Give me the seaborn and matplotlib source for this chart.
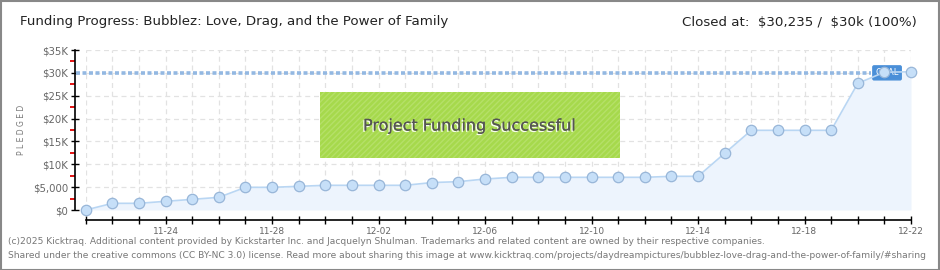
import matplotlib
matplotlib.use("Agg")
import matplotlib.pyplot as plt
import seaborn as sns
import pandas as pd
from matplotlib.patches import Rectangle
import matplotlib.patheffects as pe

dates = ["11-21", "11-22", "11-23", "11-24", "11-25", "11-26", "11-27", "11-28",
         "11-29", "11-30", "12-01", "12-02", "12-03", "12-04", "12-05", "12-06",
         "12-07", "12-08", "12-09", "12-10", "12-11", "12-12", "12-13", "12-14",
         "12-15", "12-16", "12-17", "12-18", "12-19", "12-20", "12-21", "12-22"]
pledged = [0, 1460, 1460, 1900, 2330, 2770, 4960, 4960,
           5180, 5400, 5400, 5400, 5400, 6000, 6200, 6780,
           7150, 7150, 7150, 7150, 7150, 7150, 7370, 7370,
           12400, 17430, 17430, 17430, 17430, 27700, 30150, 30235]
goal = 30000
ytick_values = [0, 5000, 10000, 15000, 20000, 25000, 30000, 35000]
ytick_labels = ["\\$0", "\\$5,000", "\\$10K", "\\$15K", "\\$20K", "\\$25K", "\\$30K", "\\$35K"]
xlabel_every = 4
xlabel_start = 3

title = "Funding Progress: Bubblez: Love, Drag, and the Power of Family"
status = "Closed at:  \\$30,235 /  \\$30k (100%)"
footer1 = ("(c)2025 Kicktraq. Additional content provided by Kickstarter Inc. and Jacquelyn Shulman. "
           "Trademarks and related content are owned by their respective companies.")
footer2 = ("Shared under the creative commons (CC BY-NC 3.0) license. Read more about sharing this image at "
           "www.kicktraq.com/projects/daydreampictures/bubblez-love-drag-and-the-power-of-family/#sharing")

sns.set_theme(style="white")
plt.rcParams['font.family'] = ['DejaVu Sans']
narrow = ["Liberation Sans Narrow", "DejaVu Sans"]

df = pd.DataFrame({"day": range(len(dates)), "pledged": pledged})

fig = plt.figure(figsize=(9.4, 2.7), dpi=100)
ax = fig.add_axes([85.7 / 940, 60 / 270, 825.3 / 940, 160 / 270])

# area fill
ax.fill_between(df["day"], df["pledged"], 0, color="#edf4fd", zorder=1, linewidth=0)
# goal line
ax.plot([-0.35, 29.5], [goal, goal], color="#93b8e2", lw=2.6, ls=(0, (1.1, 0.7)),
        zorder=2, dash_capstyle="butt", clip_on=False)
sns.lineplot(data=df, x="day", y="pledged", ax=ax, color="#b9d6f3", lw=1.2,
             marker="o", markersize=7.5, markerfacecolor="#c6dff8",
             markeredgecolor="#98b6d8", markeredgewidth=0.9, zorder=5, clip_on=False)

ax.set_xlim(0, len(dates) - 1)
ax.set_ylim(0, 35000)
ax.set_xlabel("")
ax.set_ylabel("")

ax.set_yticks(ytick_values)
ax.set_yticklabels(ytick_labels)
ax.set_yticks([v + 2500 for v in ytick_values[:-1]], minor=True)
ax.tick_params(axis="y", which="major", direction="inout", length=6, width=1, color="black",
               pad=2, left=True, labelsize=7.3, labelcolor="#666666")
ax.tick_params(axis="y", which="minor", direction="out", length=3.5, width=1.3, color="#e00000", left=True)

ax.set_xticks(range(len(dates)))
ax.set_xticklabels([d if (i - xlabel_start) % xlabel_every == 0 and i >= xlabel_start else ""
                    for i, d in enumerate(dates)])
ax.tick_params(axis="x", which="major", direction="inout", length=6, width=1, color="black",
               pad=2, bottom=True, labelsize=6.5, labelcolor="#666666")

for s in ["top", "right"]:
    ax.spines[s].set_visible(False)
ax.spines["left"].set_position(("outward", 7.7))
ax.spines["bottom"].set_position(("outward", 7.2))
for s in ["left", "bottom"]:
    ax.spines[s].set_color("black")
    ax.spines[s].set_linewidth(1.2)

ax.grid(True, which="major", color="#e2e2e2", ls=(0, (4, 3)), lw=0.9)
ax.set_axisbelow(True)

# GOAL label
ax.text(30.1, goal, "GOAL", color="white", fontsize=6, ha="center", va="center",
        zorder=4, bbox=dict(boxstyle="round,pad=0.3,rounding_size=0.15", fc="#4a8fd8", ec="#4a8fd8"))

fig.text(22 / 940, 1 - 130 / 270, "P L E D G E D", rotation=90, color="#777777", fontsize=5.5,
         ha="center", va="center")

# success banner
fig.patches.append(Rectangle((320 / 940, 1 - 158 / 270), 300 / 940, 66 / 270,
                             transform=fig.transFigure, facecolor="#a6d94c",
                             edgecolor="#b5e068", hatch="//////", lw=0, zorder=3))
fig.text(470 / 940, 1 - 126 / 270, "Project Funding Successful", color="#555555",
         fontsize=11.5, ha="center", va="center", family=narrow,
         path_effects=[pe.withSimplePatchShadow(offset=(-1, -1), shadow_rgbFace="white", alpha=0.9), pe.Normal()],
         zorder=6)

# titles
fig.text(20 / 940, 1 - 22 / 270, title, fontsize=9.6, color="#222222", ha="left", va="center",
         family=narrow)
fig.text(917 / 940, 1 - 22 / 270, status, fontsize=9.6, color="#222222", ha="right", va="center",
         family=narrow)

fig.text(8 / 940, 1 - 242 / 270, footer1, fontsize=6.6, color="#777777", ha="left", va="center",
         family=narrow)
fig.text(8 / 940, 1 - 256 / 270, footer2, fontsize=6.6, color="#777777", ha="left", va="center",
         family=narrow)

# outer border
fig.patches.append(Rectangle((0.5 / 940, 0.5 / 270), 938.5 / 940, 268.5 / 270, transform=fig.transFigure,
                             fill=False, edgecolor="#888888", lw=1.5, zorder=10))

fig.savefig("out.png", dpi=100)
